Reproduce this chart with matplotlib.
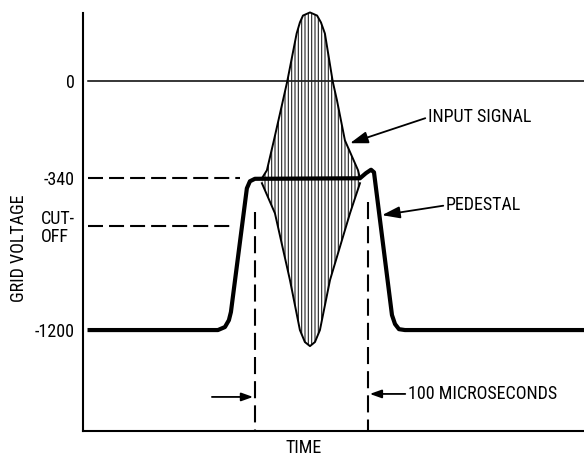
import numpy as np
import matplotlib
matplotlib.use("Agg")
import matplotlib.pyplot as plt

plt.rcParams["font.family"] = ["Roboto Condensed", "Liberation Sans Narrow", "DejaVu Sans"]
plt.rcParams["hatch.linewidth"] = 0.8

# Grid voltage levels (V)
level_zero = 0
level_pedestal = -340
level_cutoff = -610
level_bias = -1200
ytick_values = [level_zero, level_pedestal, level_cutoff, level_bias]
ytick_labels = ["0", "-340", "CUT-\nOFF", "-1200"]

# Gating pulse window (microseconds)
pulse_window = [150, 250]

# Pedestal waveform: time (us) and grid voltage (V)
pedestal_t = [2, 117.3, 123.5, 127.0, 128.8, 142.9, 145.6, 150.0, 242.9,
              248.2, 252.7, 255.3, 271.2, 273.9, 277.4, 282.7, 441]
pedestal_v = [-1200, -1200, -1183, -1144, -1098, -397, -357, -343, -340,
              -322, -310, -319, -1115, -1166, -1195, -1200, -1200]

# Input signal envelope riding on the pedestal
upper_t = [156.2, 160.6, 166.8, 174.8, 178.6, 186.9, 189.8, 192.5, 198.7,
           205.0, 208.4, 211.9, 218.8, 222.6, 229.6, 241.2, 242.9]
upper_v = [-340, -312, -207, -67, 0, 168, 207, 231, 242,
           231, 207, 168, 0, -67, -207, -312, -340]
lower_t = [156.2, 167.7, 181.0, 189.8, 194.2, 198.7, 203.1, 207.5, 216.4, 234.1, 242.9]
lower_v = [-368, -538, -917, -1200, -1268, -1291, -1268, -1200, -917, -538, -368]


# Schematic voltage axis: the span above the pedestal level is drawn
# taller per volt than the span below it.
K_UP, K_DN = 0.2853, 0.1767


def v_forward(v):
    v = np.asarray(v, dtype=float)
    d = v - level_pedestal
    return np.where(d >= 0, d * K_UP, d * K_DN)


def v_inverse(p):
    p = np.asarray(p, dtype=float)
    return np.where(p >= 0, p / K_UP, p / K_DN) + level_pedestal


fig = plt.figure(figsize=(5.84, 4.59), dpi=100)
ax = fig.add_axes([83 / 584, 28 / 459, 501 / 584, 418 / 459])
ax.set_yscale("function", functions=(v_forward, v_inverse))
ax.set_xlim(-2, 441)
ax.set_ylim(-1772, 240)

for side in ("top", "right"):
    ax.spines[side].set_visible(False)
for side in ("left", "bottom"):
    ax.spines[side].set_linewidth(1.5)

ax.set_xticks([])
ax.set_yticks(ytick_values)
ax.set_yticklabels(ytick_labels, fontsize=13)
ax.minorticks_off()
ax.tick_params(axis="y", length=0, pad=6)
for lab in ax.get_yticklabels():
    if "CUT" in lab.get_text():
        lab.set_multialignment("left")
        lab.set_linespacing(1.0)

# Zero-volt reference
ax.plot([2, 441], [level_zero, level_zero], color="black", lw=1.1, zorder=2)

# Dashed level markers
ax.plot([2, 137], [level_pedestal, level_pedestal], color="black", lw=1.5,
        dashes=(7.2, 2.9), zorder=2)
ax.plot([2, 130.5], [level_cutoff, level_cutoff], color="black", lw=1.5,
        dashes=(7.2, 2.9), zorder=2)

# Dashed pulse-width markers
ax.plot([pulse_window[0]] * 2, [-532, -1772], color="black", lw=1.5,
        dashes=(8.2, 3.4), zorder=2, clip_on=False)
ax.plot([pulse_window[1]] * 2, [-475, -1772], color="black", lw=1.5,
        dashes=(8.2, 3.4), zorder=2, clip_on=False)

# Input signal: hatched body plus envelope outline
poly_t = np.concatenate([upper_t, lower_t[::-1]])
poly_v = np.concatenate([upper_v, lower_v[::-1]])
ax.fill(poly_t, poly_v, facecolor="none", edgecolor="#222222", hatch="|||||",
        linewidth=0, zorder=2, clip_on=False)
ax.plot(upper_t, upper_v, color="black", lw=1.4, solid_joinstyle="round",
        zorder=3, clip_on=False)
ax.plot(lower_t, lower_v, color="black", lw=1.4, solid_joinstyle="round",
        zorder=3)

# Pedestal
ax.plot(pedestal_t, pedestal_v, color="black", lw=3.0, solid_joinstyle="round",
        solid_capstyle="butt", zorder=4)

# Callouts
big_arrow = dict(arrowstyle="-|>,head_length=0.9,head_width=0.3", color="black",
                 lw=1.3, shrinkA=0, shrinkB=0, mutation_scale=12)
small_arrow = dict(arrowstyle="-|>,head_length=0.7,head_width=0.25", color="black",
                   lw=1.3, shrinkA=0, shrinkB=0, mutation_scale=10)

ax.annotate("INPUT SIGNAL", xy=(234.1, -217), xytext=(303.1, -126),
            ha="left", va="center", fontsize=13,
            arrowprops=dict(big_arrow, relpos=(0, 0.5)))
ax.annotate("PEDESTAL", xy=(262.4, -549), xytext=(319, -493),
            ha="left", va="center", fontsize=13,
            arrowprops=dict(big_arrow, relpos=(0, 0.5)))
ax.annotate("100 MICROSECONDS", xy=(251.6, -1562), xytext=(285.4, -1562),
            ha="left", va="center", fontsize=13,
            arrowprops=dict(small_arrow, relpos=(0, 0.5)))
ax.annotate("", xy=(148.4, -1579), xytext=(112, -1579),
            arrowprops=small_arrow)

ax.set_xlabel("TIME", fontsize=13, va="center")
ax.xaxis.set_label_coords(0.44, -0.041)
ax.set_ylabel("GRID VOLTAGE", fontsize=13, va="center")
ax.yaxis.set_label_coords(-0.128, 0.438)

fig.savefig("out.png", dpi=100)
